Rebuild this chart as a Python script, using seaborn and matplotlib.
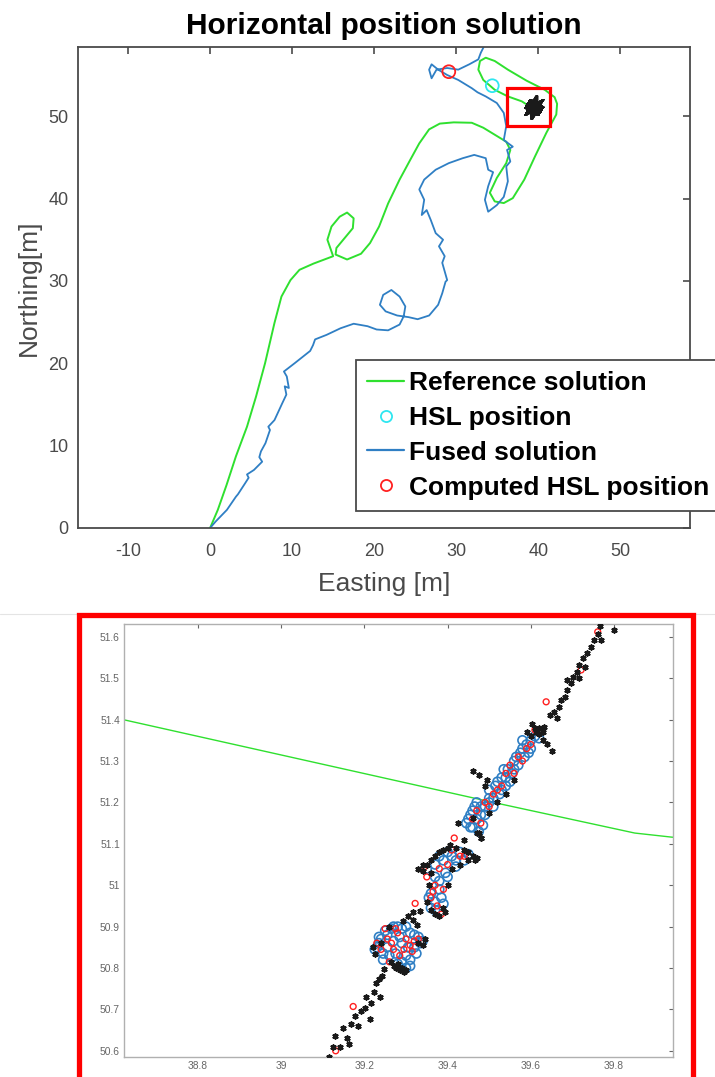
import matplotlib
matplotlib.use("Agg")
import matplotlib.pyplot as plt
import seaborn as sns
from matplotlib.lines import Line2D
from matplotlib.patches import Rectangle

sns.set_theme(style="white")
plt.rcParams['font.family'] = ['Liberation Sans', 'DejaVu Sans']
plt.rcParams['axes.unicode_minus'] = False

# ---------------- data: main plot ----------------
ref_e = [0.0, 0.94, 2.0, 3.15, 4.5, 5.6, 6.7, 7.85, 8.7, 9.8, 10.9, 12.6, 15.0,
         14.3, 14.8, 15.8, 16.7, 17.5, 17.4, 16.4, 15.4, 15.3, 16.7, 18.4, 19.5,
         20.6, 21.7, 23.1, 24.4, 25.5, 26.7, 28.0, 29.7, 31.9, 33.3, 34.7, 36.1,
         36.6, 36.1, 34.95, 34.1, 34.7, 35.8, 36.9, 38.3, 39.6, 41.0, 42.2, 42.3,
         42.0, 40.8, 38.6, 36.3, 34.7, 33.6, 32.9, 32.7, 33.3, 34.7, 36.3, 38.0,
         38.62, 39.51, 39.85, 39.94, 40.3]
ref_n = [0.0, 2.2, 5.2, 8.7, 12.3, 15.95, 20.0, 24.9, 28.1, 30.1, 31.35, 32.1, 33.0,
         35.0, 36.6, 37.8, 38.3, 37.6, 36.4, 35.2, 34.0, 33.2, 32.6, 33.3, 34.6,
         36.6, 39.4, 42.3, 44.7, 46.7, 48.4, 49.1, 49.25, 49.2, 48.6, 47.75, 46.9,
         45.9, 44.3, 42.5, 40.7, 39.65, 39.45, 40.05, 42.3, 45.1, 48.0, 50.2, 51.5,
         52.3, 53.2, 54.3, 55.65, 56.7, 57.1, 56.7, 55.65, 54.4, 53.2, 52.4, 51.8,
         51.40, 51.20, 51.126, 51.116, 51.1]

fused_e = [0.0, 0.66, 2.05, 3.15, 3.4, 4.25, 4.7, 4.5, 5.35, 6.35, 6.0, 6.2, 6.75,
           7.3, 7.1, 7.85, 8.8, 9.3, 9.1, 9.6, 9.35, 9.0, 10.3, 12.2, 12.55, 12.8,
           14.2, 15.9, 17.5, 19.2, 20.3, 21.7, 23.1, 23.6, 23.8, 23.1, 22.1, 21.1,
           20.7, 21.4, 22.8, 24.2, 25.3, 26.7, 27.8, 28.3, 28.7, 28.9, 28.3, 28.6,
           27.9, 28.4, 27.5, 26.9, 26.4, 25.8, 26.1, 25.5, 26.1, 27.5, 29.1, 30.8,
           32.2, 33.6, 33.9, 34.5, 33.9, 33.5, 33.9, 34.95, 35.8, 36.3, 36.1, 36.6,
           36.2, 36.9, 35.8, 36.1, 35.8, 34.95, 33.6, 32.6, 31.9, 30.25, 28.9, 27.8,
           27.0, 26.7, 27.0, 27.6, 28.9, 30.25, 31.6, 32.7, 33.0, 33.3, 33.5]
fused_n = [0.0, 0.77, 2.2, 3.8, 4.1, 5.4, 6.1, 6.5, 7.05, 8.05, 8.6, 9.3, 10.3,
           11.9, 12.3, 13.1, 15.15, 16.2, 17.2, 17.0, 18.4, 19.0, 20.0, 21.5, 22.2,
           22.9, 23.45, 24.25, 24.8, 24.5, 24.1, 24.0, 24.7, 25.7, 26.9, 28.1, 28.9,
           28.3, 27.1, 26.3, 25.8, 25.6, 25.35, 25.8, 27.1, 28.5, 29.9, 30.1, 32.2,
           33.0, 34.2, 35.0, 35.8, 37.4, 38.6, 38.0, 39.85, 41.1, 42.3, 43.5, 44.3,
           44.9, 45.3, 44.9, 43.5, 43.2, 41.5, 39.85, 38.4, 39.2, 40.2, 42.1, 43.9,
           44.5, 45.9, 46.3, 47.1, 48.8, 50.4, 51.6, 52.4, 52.9, 53.4, 54.4, 55.0,
           55.65, 56.3, 55.65, 54.6, 55.65, 55.85, 55.65, 56.3, 56.9, 57.7, 58.3, 59.0]

hsl_e, hsl_n = [34.4], [53.7]
comp_e, comp_n = [29.1], [55.4]
zoom_box = [36.2, 48.75, 41.4, 53.4]   # e0, n0, e1, n1

x_ticks = [-10, 0, 10, 20, 30, 40, 50]
y_ticks = [0, 10, 20, 30, 40, 50]
legend_labels = ["Reference solution", "HSL position", "Fused solution",
                 "Computed HSL position"]

# ---------------- data: zoomed inset ----------------
black_e = [39.115, 39.125, 39.130, 39.142, 39.149, 39.158, 39.162, 39.167, 39.177,
           39.185, 39.191, 39.201, 39.205, 39.214, 39.217, 39.224, 39.229, 39.238,
           39.236, 39.243, 39.246,
           39.275, 39.285, 39.295, 39.28, 39.265, 39.33, 39.345, 39.24, 39.22, 39.26,
           39.29, 39.30, 39.27, 39.34, 39.225,
           39.293, 39.305, 39.317, 39.333, 39.317, 39.327,
           39.33, 39.34, 39.36, 39.38, 39.40, 39.42, 39.44, 39.46, 39.45, 39.43,
           39.41, 39.36, 39.355, 39.35, 39.37, 39.38, 39.39, 39.40, 39.465,
           39.35, 39.37, 39.39, 39.45, 39.47, 39.395, 39.36, 39.34,
           39.406, 39.426, 39.475, 39.480, 39.460, 39.44,
           39.47, 39.48, 39.50, 39.52, 39.54, 39.60, 39.62, 39.63, 39.64, 39.56,
           39.49, 39.495, 39.46, 39.475, 39.652, 39.603, 39.62, 39.61, 39.59, 39.63,
           39.613, 39.633, 39.647, 39.657, 39.667, 39.672, 39.682, 39.687, 39.697,
           39.701, 39.711, 39.716, 39.726, 39.716, 39.731, 39.736, 39.746, 39.751,
           39.761, 39.766, 39.800, 39.770, 39.687, 39.662]
black_n = [50.586, 50.610, 50.636, 50.608, 50.655, 50.630, 50.616, 50.664, 50.684,
           50.660, 50.696, 50.704, 50.731, 50.676, 50.716, 50.741, 50.763, 50.729,
           50.773, 50.781, 50.797,
           50.800, 50.795, 50.790, 50.810, 50.815, 50.860, 50.870, 50.860, 50.850, 50.900,
           50.800, 50.795, 50.805, 50.855, 50.835,
           50.913, 50.925, 50.936, 50.937, 50.917, 50.905,
           51.040, 51.050, 51.060, 51.080, 51.090, 51.090, 51.085, 51.070, 51.060, 51.050,
           51.040, 51.030, 51.000, 50.960, 50.930, 50.925, 50.945, 51.000, 51.060,
           51.050, 51.070, 51.085, 51.080, 51.065, 50.935, 50.940, 51.035,
           51.098, 51.150, 51.126, 51.114, 51.162, 51.110,
           51.125, 51.115, 51.175, 51.200, 51.220, 51.360, 51.380, 51.350, 51.340, 51.255,
           51.240, 51.255, 51.275, 51.267, 51.323, 51.390, 51.365, 51.380, 51.370, 51.370,
           51.371, 51.383, 51.411, 51.419, 51.431, 51.447, 51.455, 51.471, 51.488,
           51.504, 51.516, 51.532, 51.548, 51.500, 51.528, 51.560, 51.576, 51.592,
           51.608, 51.626, 51.616, 51.592, 51.496, 51.403]

blue_e = [39.23, 39.24, 39.25, 39.27, 39.29, 39.31, 39.33, 39.34, 39.32, 39.30,
          39.28, 39.30, 39.26, 39.245, 39.27, 39.29, 39.31, 39.235,
          39.225, 39.235, 39.255, 39.265, 39.28, 39.30, 39.32, 39.335, 39.325, 39.31,
          39.29, 39.275, 39.255, 39.285, 39.305, 39.245,
          39.37, 39.39, 39.41, 39.36, 39.37, 39.385, 39.38, 39.36, 39.395, 39.42,
          39.35, 39.38, 39.40, 39.43, 39.45, 39.37, 39.355, 39.37, 39.39, 39.38,
          39.40, 39.42, 39.44,
          39.445, 39.455, 39.46, 39.47, 39.475, 39.48, 39.49, 39.465, 39.50, 39.51,
          39.515, 39.525, 39.53, 39.54, 39.545, 39.555, 39.56, 39.57, 39.575, 39.585,
          39.59, 39.60, 39.58, 39.61, 39.50,
          39.45, 39.46, 39.47, 39.48, 39.49, 39.50, 39.51, 39.52, 39.53, 39.54,
          39.55, 39.56, 39.565, 39.58, 39.595, 39.60, 39.62, 39.455, 39.485, 39.535]
blue_n = [50.850, 50.870, 50.890, 50.900, 50.895, 50.885, 50.875, 50.865, 50.850, 50.830,
          50.810, 50.800, 50.830, 50.835, 50.865, 50.860, 50.820, 50.860,
          50.845, 50.875, 50.880, 50.895, 50.900, 50.900, 50.880, 50.860, 50.835, 50.805,
          50.815, 50.835, 50.850, 50.875, 50.850, 50.820,
          51.050, 51.060, 51.070, 50.980, 50.960, 50.970, 51.010, 50.945, 51.030, 51.060,
          51.040, 51.070, 51.080, 51.080, 51.075, 51.020, 50.970, 50.940, 50.955, 50.990,
          51.020, 51.045, 51.060,
          51.150, 51.170, 51.140, 51.160, 51.130, 51.190, 51.170, 51.190, 51.210, 51.190,
          51.240, 51.220, 51.260, 51.240, 51.280, 51.270, 51.300, 51.290, 51.320, 51.310,
          51.340, 51.330, 51.350, 51.360, 51.230,
          51.160, 51.180, 51.200, 51.170, 51.190, 51.200, 51.210, 51.250, 51.230, 51.260,
          51.250, 51.280, 51.310, 51.330, 51.320, 51.350, 51.355, 51.140, 51.145, 51.280]

red_e = [39.24, 39.255, 39.28, 39.30, 39.32, 39.27, 39.295, 39.26, 39.315, 39.25,
         39.23, 39.265, 39.285, 39.31, 39.33, 39.275,
         39.35, 39.37, 39.39, 39.375, 39.40, 39.38, 39.43, 39.36,
         39.345, 39.41, 39.365, 39.385, 39.44,
         39.46, 39.49, 39.51, 39.53, 39.55, 39.57, 39.59, 39.61, 39.48,
         39.47, 39.50, 39.52, 39.54, 39.56, 39.58, 39.60,
         39.173, 39.322, 39.416, 39.637, 39.721, 39.761, 39.131]
red_n = [50.845, 50.870, 50.885, 50.870, 50.865, 50.845, 50.845, 50.815, 50.840, 50.895,
         50.860, 50.860, 50.830, 50.855, 50.870, 50.895,
         51.020, 51.000, 50.990, 50.950, 51.050, 51.040, 51.070, 50.970,
         51.045, 51.085, 50.985, 50.930, 51.070,
         51.160, 51.200, 51.220, 51.240, 51.290, 51.310, 51.330, 51.375, 51.150,
         51.180, 51.190, 51.230, 51.270, 51.270, 51.300, 51.340,
         50.707, 50.956, 51.114, 51.443, 51.520, 51.612, 50.600]

inset_xticks = [38.8, 39.0, 39.2, 39.4, 39.6, 39.8]
inset_xlabels = ["38.8", "39", "39.2", "39.4", "39.6", "39.8"]
inset_yticks = [50.6, 50.7, 50.8, 50.9, 51.0, 51.1, 51.2, 51.3, 51.4, 51.5, 51.6]
inset_ylabels = ["50.6", "50.7", "50.8", "50.9", "51", "51.1", "51.2", "51.3",
                 "51.4", "51.5", "51.6"]

GREEN = "#2fe02f"
BLUE = "#2f7fc4"
CYAN = "#2ee6f0"
RED = "#ff2020"
AX_COL = "#4a4a4a"
AST = (6, 2, 0)

W, H = 715, 1077
fig = plt.figure(figsize=(W / 100, H / 100), dpi=100)

# ---------------- main axes ----------------
ax = fig.add_axes([78 / W, 1 - 528 / H, 612 / W, 481 / H])
sns.lineplot(x=ref_e, y=ref_n, sort=False, estimator=None, color=GREEN, lw=1.4,
             ax=ax, legend=False)
sns.lineplot(x=fused_e, y=fused_n, sort=False, estimator=None, color=BLUE, lw=1.3,
             ax=ax, legend=False)
sns.scatterplot(x=black_e, y=black_n, marker=AST, color="k", s=120, linewidth=1.1,
                ax=ax, legend=False, zorder=4)
sns.scatterplot(x=hsl_e, y=hsl_n, marker="o", color=CYAN, facecolor="none",
                edgecolor=CYAN, s=85, linewidth=1.3, ax=ax, legend=False, zorder=5)
sns.scatterplot(x=comp_e, y=comp_n, marker="o", color=RED, facecolor="none",
                edgecolor=RED, s=85, linewidth=1.3, ax=ax, legend=False, zorder=5)
ax.add_patch(Rectangle((zoom_box[0], zoom_box[1]), zoom_box[2] - zoom_box[0],
                       zoom_box[3] - zoom_box[1], fill=False, edgecolor="red",
                       lw=2.3, zorder=6))

ax.set_xlim(-16.1, 58.5)
ax.set_ylim(0, 58.4)
ax.set_xticks(x_ticks)
ax.set_yticks(y_ticks)
ax.tick_params(direction="in", length=5, width=1.2, top=True, right=True,
               labelsize=13, colors=AX_COL, pad=7)
ax.tick_params(axis="x", pad=10.5)
for sp in ax.spines.values():
    sp.set_color(AX_COL)
    sp.set_linewidth(1.3)
ax.set_title("Horizontal position solution", fontsize=21.5, fontweight="bold",
             color="black", pad=9)
ax.set_xlabel("Easting [m]", fontsize=19, color=AX_COL, labelpad=9)
ax.set_ylabel("Northing[m]", fontsize=19, color=AX_COL, labelpad=5)

handles = [Line2D([], [], color=GREEN, lw=1.6),
           Line2D([], [], ls="", marker="o", mfc="none", mec=CYAN, ms=8, mew=1.3),
           Line2D([], [], color=BLUE, lw=1.6),
           Line2D([], [], ls="", marker="o", mfc="none", mec=RED, ms=8, mew=1.3)]
leg = ax.legend(handles, legend_labels, loc="upper left",
                bbox_to_anchor=(356 / W, 1 - 360 / H), bbox_transform=fig.transFigure,
                prop=dict(weight="bold", size=19), frameon=True, fancybox=False,
                edgecolor=AX_COL, framealpha=1, borderpad=0.42, handlelength=1.4,
                handletextpad=0.2, labelspacing=0.41, borderaxespad=0)
leg.get_frame().set_linewidth(1.3)
for t in leg.get_texts():
    t.set_color("black")

# ---------------- separator and red frame ----------------
fig.add_artist(Line2D([0, 1], [1 - 614 / H] * 2, transform=fig.transFigure,
                      color="#e4e4e4", lw=0.8, zorder=0))
fig.add_artist(Rectangle((79 / W, -0.02), (693 - 79) / W, 0.02 + 1 - 615 / H,
                         transform=fig.transFigure, fill=False, edgecolor="#ff0000",
                         lw=3.8, zorder=10))

# ---------------- inset axes ----------------
ax2 = fig.add_axes([124 / W, 1 - 1057 / H, 549 / W, 433 / H])
sns.lineplot(x=ref_e, y=ref_n, sort=False, estimator=None, color=GREEN, lw=1.0,
             ax=ax2, legend=False)
sns.scatterplot(x=blue_e, y=blue_n, marker="o", color=BLUE, facecolor="none",
                edgecolor=BLUE, s=42, linewidth=1.2, ax=ax2, legend=False, zorder=3)
sns.scatterplot(x=red_e, y=red_n, marker="o", color=RED, facecolor="none",
                edgecolor=RED, s=18, linewidth=1.0, ax=ax2, legend=False, zorder=4)
sns.scatterplot(x=black_e, y=black_n, marker=AST, color="k", s=12, linewidth=1.3,
                ax=ax2, legend=False, zorder=5)
ax2.set_xlim(38.622, 39.942)
ax2.set_ylim(50.585, 51.631)
ax2.set_xticks(inset_xticks)
ax2.set_xticklabels(inset_xlabels)
ax2.set_yticks(inset_yticks)
ax2.set_yticklabels(inset_ylabels)
ax2.tick_params(direction="in", length=3, width=0.8, top=True, right=True,
                labelsize=7.4, colors="#666666", pad=3)
for sp in ax2.spines.values():
    sp.set_color("#b0b0b0")
    sp.set_linewidth(1.0)

fig.savefig("out.png", dpi=100)
